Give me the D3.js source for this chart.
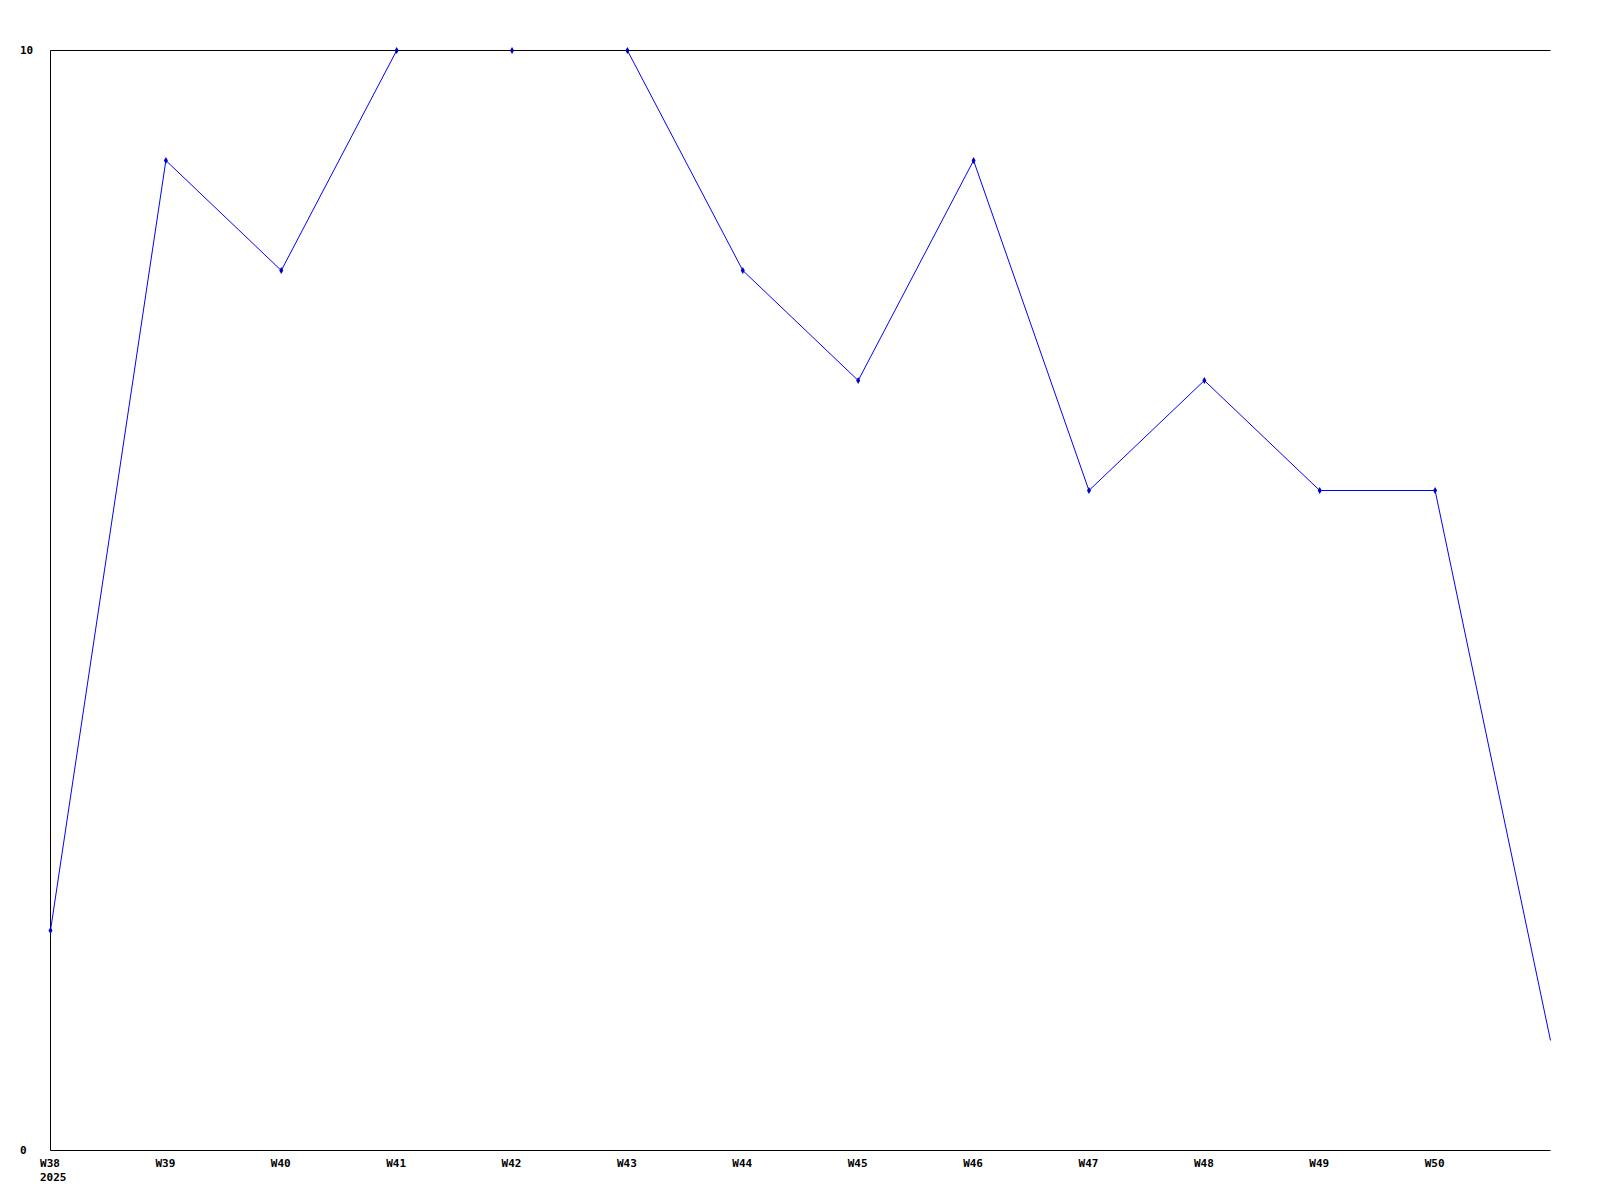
<!DOCTYPE html>
<html>
<head>
<meta charset="utf-8">
<script src="https://d3js.org/d3.v7.min.js"></script>
<style>
  body { margin: 0; background: #fff; }
  text { font-family: "DejaVu Sans Mono", monospace; font-weight: bold; font-size: 11px; }
</style>
</head>
<body>
<svg id="chart" width="1600" height="1200"></svg>
<script>
var weeks = ["W38","W39","W40","W41","W42","W43","W44","W45","W46","W47","W48","W49","W50","W51"];
var values = [2, 9, 8, 10, 10, 10, 8, 7, 9, 6, 7, 6, 6, 1];
var weekLabels = ["W38","W39","W40","W41","W42","W43","W44","W45","W46","W47","W48","W49","W50"];
var yearLabel = "2025";
var yTicks = [0, 10];

var svg = d3.select("#chart"),
    plotLeft = 50, plotRight = 1550, plotTop = 50, plotBottom = 1150;

var x = d3.scalePoint().domain(weeks).range([plotLeft, plotRight]);
var y = d3.scaleLinear().domain([0, 10]).range([plotBottom, plotTop]);

// half-pixel offset keeps 1px strokes crisp
var plot = svg.append("g").attr("transform", "translate(0.5,0.5)");

// series line
var line = d3.line()
    .x(function(d, i){ return x(weeks[i]); })
    .y(function(d){ return y(d); });

plot.append("path")
   .datum(values)
   .attr("d", line)
   .attr("fill", "none")
   .attr("stroke", "#0000ff")
   .attr("stroke-width", 1);

// axes frame (left, bottom, top) drawn over the line
plot.append("line").attr("x1", plotLeft).attr("x2", plotLeft)
   .attr("y1", plotTop).attr("y2", plotBottom).attr("stroke", "#000");
plot.append("line").attr("x1", plotLeft).attr("x2", plotRight)
   .attr("y1", plotBottom).attr("y2", plotBottom).attr("stroke", "#000");
plot.append("line").attr("x1", plotLeft).attr("x2", plotRight)
   .attr("y1", plotTop).attr("y2", plotTop).attr("stroke", "#000");

// markers (the last, current week has none)
plot.append("g").selectAll("path")
   .data(values.slice(0, values.length - 1))
   .enter().append("path")
   .attr("d", d3.symbol().type(d3.symbolDiamond).size(14))
   .attr("transform", function(d, i){ return "translate(" + x(weeks[i]) + "," + y(d) + ")"; })
   .attr("fill", "#0000cc");

// y labels
svg.append("g").selectAll("text")
   .data(yTicks)
   .enter().append("text")
   .attr("x", 20)
   .attr("y", function(d){ return y(d); })
   .attr("dy", "0.35em")
   .text(function(d){ return d; });

// x labels
svg.append("g").selectAll("text")
   .data(weekLabels)
   .enter().append("text")
   .attr("x", function(d){ return x(d); })
   .attr("y", plotBottom + 13)
   .attr("dy", "0.35em")
   .attr("text-anchor", "middle")
   .text(function(d){ return d; });

svg.append("text")
   .attr("x", x(weeks[0]) - 10)
   .attr("y", plotBottom + 27)
   .attr("dy", "0.35em")
   .text(yearLabel);
</script>
</body>
</html>
